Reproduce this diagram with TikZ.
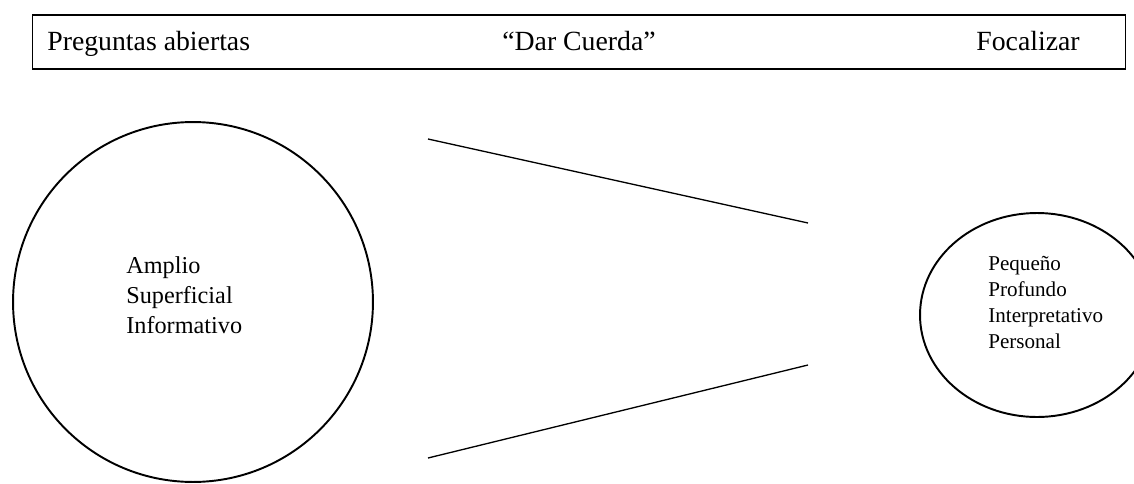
\documentclass[tikz,border=0pt]{standalone}
\usepackage{fontspec}
\setmainfont{Liberation Serif}
\usetikzlibrary{positioning, shapes.geometric}

\begin{document}
\begin{tikzpicture}[x=0.02cm, y=-0.02cm,
    rotulo/.style={inner sep=0pt, font=\fontsize{15.8}{18}\selectfont},
    lista/.style={inner sep=0pt, align=left, anchor=base west},
    trazo/.style={line width=0.75pt}]
  \useasboundingbox (0,0) rectangle (1134,484);

  % barra superior
  \node[draw, line width=0.6pt, minimum width=21.88cm, minimum height=1.08cm, inner sep=0pt] (barra) at (579,42) {};
  \node[rotulo, anchor=base west] (abiertas) at (47,50) {Preguntas abiertas};
  \node[rotulo, anchor=base] (cuerda) at (barra.center |- 0,50) {“Dar Cuerda”};
  \node[rotulo, anchor=base east] (focalizar) at (1080,50) {Focalizar};

  % circulos
  \node[circle, draw, line width=1.1pt, minimum size=7.2cm] (amplio) at (193,302) {};
  \node[ellipse, draw, line width=1.1pt, minimum width=4.68cm, minimum height=4.08cm] (pequeno) at (1037,315) {};

  % base = ultima linea
  \node[lista, font=\fontsize{13.8}{17}\selectfont] (rasgosA) at (126,333) {Amplio\\Superficial\\Informativo};
  \node[lista, font=\fontsize{12}{14.7}\selectfont] (rasgosB) at (988,348) {Pequeño\\Profundo\\Interpretativo\\Personal};

  % embudo
  \coordinate (a1) at (428,139);
  \coordinate (a2) at (808,223);
  \coordinate (b1) at (428,458);
  \coordinate (b2) at (808,365);
  \draw[trazo] (a1) -- (a2);
  \draw[trazo] (b1) -- (b2);
\end{tikzpicture}
\end{document}
